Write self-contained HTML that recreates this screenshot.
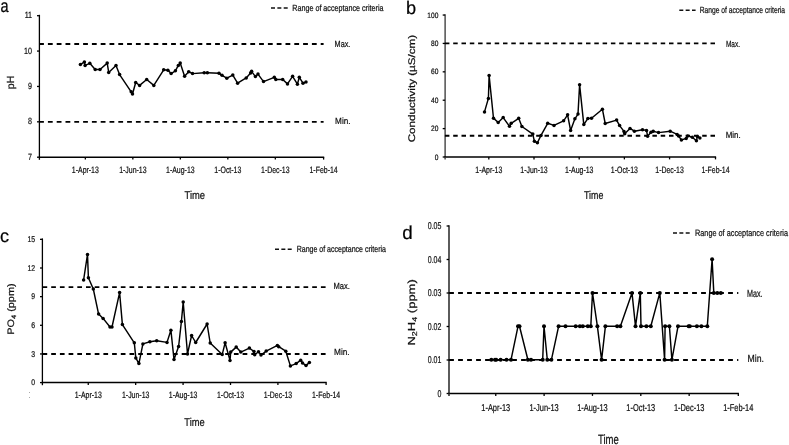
<!DOCTYPE html>
<html><head><meta charset="utf-8"><title>Water quality charts</title>
<style>
html,body{margin:0;padding:0;background:#fff;}
svg{display:block;will-change:transform;}
text{font-family:"Liberation Sans", sans-serif;text-rendering:geometricPrecision;stroke:#111;stroke-width:0.22px;}
</style></head>
<body>
<svg width="789" height="445" viewBox="0 0 789 445">
<rect width="789" height="445" fill="#fff"/>
<line x1="39.40" y1="14.80" x2="39.40" y2="157.20" stroke="#000" stroke-width="1.3" />
<line x1="38.80" y1="157.20" x2="324.20" y2="157.20" stroke="#000" stroke-width="1.5" />
<line x1="37.00" y1="15.70" x2="39.40" y2="15.70" stroke="#000" stroke-width="1.3" />
<text x="32.10" y="18.30" font-size="9.0" text-anchor="end" fill="#111" stroke="#111" stroke-width="0.22" textLength="7.47" lengthAdjust="spacingAndGlyphs" >11</text>
<line x1="37.00" y1="51.07" x2="39.40" y2="51.07" stroke="#000" stroke-width="1.3" />
<text x="32.10" y="53.67" font-size="9.0" text-anchor="end" fill="#111" stroke="#111" stroke-width="0.22" textLength="8.01" lengthAdjust="spacingAndGlyphs" >10</text>
<line x1="37.00" y1="86.45" x2="39.40" y2="86.45" stroke="#000" stroke-width="1.3" />
<text x="32.10" y="89.05" font-size="9.0" text-anchor="end" fill="#111" stroke="#111" stroke-width="0.22" textLength="4.00" lengthAdjust="spacingAndGlyphs" >9</text>
<line x1="37.00" y1="121.82" x2="39.40" y2="121.82" stroke="#000" stroke-width="1.3" />
<text x="32.10" y="124.42" font-size="9.0" text-anchor="end" fill="#111" stroke="#111" stroke-width="0.22" textLength="4.00" lengthAdjust="spacingAndGlyphs" >8</text>
<line x1="37.00" y1="157.20" x2="39.40" y2="157.20" stroke="#000" stroke-width="1.3" />
<text x="32.10" y="159.80" font-size="9.0" text-anchor="end" fill="#111" stroke="#111" stroke-width="0.22" textLength="4.00" lengthAdjust="spacingAndGlyphs" >7</text>
<line x1="39.40" y1="157.20" x2="39.40" y2="159.80" stroke="#000" stroke-width="1.3" />
<line x1="85.34" y1="157.20" x2="85.34" y2="159.60" stroke="#000" stroke-width="1.3" />
<text x="85.34" y="172.60" font-size="9.2" text-anchor="middle" fill="#111" stroke="#111" stroke-width="0.22" textLength="27.02" lengthAdjust="spacingAndGlyphs" >1-Apr-13</text>
<line x1="132.84" y1="157.20" x2="132.84" y2="159.60" stroke="#000" stroke-width="1.3" />
<text x="132.84" y="172.60" font-size="9.2" text-anchor="middle" fill="#111" stroke="#111" stroke-width="0.22" textLength="27.41" lengthAdjust="spacingAndGlyphs" >1-Jun-13</text>
<line x1="180.33" y1="157.20" x2="180.33" y2="159.60" stroke="#000" stroke-width="1.3" />
<text x="180.33" y="172.60" font-size="9.2" text-anchor="middle" fill="#111" stroke="#111" stroke-width="0.22" textLength="28.57" lengthAdjust="spacingAndGlyphs" >1-Aug-13</text>
<line x1="227.83" y1="157.20" x2="227.83" y2="159.60" stroke="#000" stroke-width="1.3" />
<text x="227.83" y="172.60" font-size="9.2" text-anchor="middle" fill="#111" stroke="#111" stroke-width="0.22" textLength="27.02" lengthAdjust="spacingAndGlyphs" >1-Oct-13</text>
<line x1="275.32" y1="157.20" x2="275.32" y2="159.60" stroke="#000" stroke-width="1.3" />
<text x="275.32" y="172.60" font-size="9.2" text-anchor="middle" fill="#111" stroke="#111" stroke-width="0.22" textLength="28.57" lengthAdjust="spacingAndGlyphs" >1-Dec-13</text>
<line x1="323.60" y1="157.20" x2="323.60" y2="159.60" stroke="#000" stroke-width="1.3" />
<text x="323.60" y="172.60" font-size="9.2" text-anchor="middle" fill="#111" stroke="#111" stroke-width="0.22" textLength="28.18" lengthAdjust="spacingAndGlyphs" >1-Feb-14</text>
<line x1="39.10" y1="44.00" x2="323.60" y2="44.00" stroke="#000" stroke-width="1.85" stroke-dasharray="4.80 4.00"/>
<line x1="39.10" y1="121.82" x2="323.60" y2="121.82" stroke="#000" stroke-width="1.85" stroke-dasharray="4.80 4.00"/>
<text x="334.60" y="47.30" font-size="9.1" text-anchor="start" fill="#111" stroke="#111" stroke-width="0.22" textLength="15.80" lengthAdjust="spacingAndGlyphs" >Max.</text>
<text x="335.10" y="124.00" font-size="9.1" text-anchor="start" fill="#111" stroke="#111" stroke-width="0.22" textLength="15.40" lengthAdjust="spacingAndGlyphs" >Min.</text>
<line x1="271.00" y1="8.00" x2="288.30" y2="8.00" stroke="#111" stroke-width="1.5" stroke-dasharray="4.0 2.35"/>
<text x="292.30" y="10.70" font-size="8.9" text-anchor="start" fill="#111" stroke="#111" stroke-width="0.22" textLength="91.20" lengthAdjust="spacingAndGlyphs" >Range of acceptance criteria</text>
<text x="0.60" y="12.10" font-size="18.2" text-anchor="start" fill="#000" stroke="#000" stroke-width="0.22" textLength="8.10" lengthAdjust="spacingAndGlyphs" >a</text>
<text x="184.50" y="199.00" font-size="11.3" text-anchor="start" fill="#111" stroke="#111" stroke-width="0.22" textLength="20.50" lengthAdjust="spacingAndGlyphs" >Time</text>
<text x="0" y="0" font-size="10.3" text-anchor="middle" fill="#111" stroke="#111" stroke-width="0.22" textLength="13.5" lengthAdjust="spacingAndGlyphs" transform="translate(13.9 82.4) rotate(-90)">pH</text>
<path d="M80.4 64.6 L84.4 61.9 L85.1 65.4 L89.8 63.3 L95.2 69.5 L100.0 69.5 L107.2 63.1 L108.7 72.4 L116.0 65.4 L119.6 74.6 L131.2 91.8 L132.5 94.0 L135.7 82.5 L139.6 85.4 L146.7 79.5 L153.8 85.4 L163.7 69.8 L167.9 70.3 L171.1 73.6 L175.4 70.8 L178.3 65.4 L180.2 63.1 L184.6 76.3 L188.7 71.7 L192.5 73.6 L204.2 72.8 L207.4 72.8 L219.0 73.3 L222.0 75.3 L226.8 78.2 L232.8 75.1 L237.6 83.2 L246.2 77.9 L250.6 73.0 L251.6 71.3 L255.4 76.6 L258.0 74.1 L263.5 81.6 L274.3 77.3 L275.8 79.5 L282.7 79.5 L287.5 83.9 L292.6 76.3 L297.4 84.2 L299.3 77.3 L303.0 83.2 L306.0 81.9" fill="none" stroke="#000" stroke-width="1.45" stroke-linejoin="round"/>
<circle cx="80.4" cy="64.6" r="1.75" fill="#000"/>
<circle cx="84.4" cy="61.9" r="1.75" fill="#000"/>
<circle cx="85.1" cy="65.4" r="1.75" fill="#000"/>
<circle cx="89.8" cy="63.3" r="1.75" fill="#000"/>
<circle cx="95.2" cy="69.5" r="1.75" fill="#000"/>
<circle cx="100.0" cy="69.5" r="1.75" fill="#000"/>
<circle cx="107.2" cy="63.1" r="1.75" fill="#000"/>
<circle cx="108.7" cy="72.4" r="1.75" fill="#000"/>
<circle cx="116.0" cy="65.4" r="1.75" fill="#000"/>
<circle cx="119.6" cy="74.6" r="1.75" fill="#000"/>
<circle cx="131.2" cy="91.8" r="1.75" fill="#000"/>
<circle cx="132.5" cy="94.0" r="1.75" fill="#000"/>
<circle cx="135.7" cy="82.5" r="1.75" fill="#000"/>
<circle cx="139.6" cy="85.4" r="1.75" fill="#000"/>
<circle cx="146.7" cy="79.5" r="1.75" fill="#000"/>
<circle cx="153.8" cy="85.4" r="1.75" fill="#000"/>
<circle cx="163.7" cy="69.8" r="1.75" fill="#000"/>
<circle cx="167.9" cy="70.3" r="1.75" fill="#000"/>
<circle cx="171.1" cy="73.6" r="1.75" fill="#000"/>
<circle cx="175.4" cy="70.8" r="1.75" fill="#000"/>
<circle cx="178.3" cy="65.4" r="1.75" fill="#000"/>
<circle cx="180.2" cy="63.1" r="1.75" fill="#000"/>
<circle cx="184.6" cy="76.3" r="1.75" fill="#000"/>
<circle cx="188.7" cy="71.7" r="1.75" fill="#000"/>
<circle cx="192.5" cy="73.6" r="1.75" fill="#000"/>
<circle cx="204.2" cy="72.8" r="1.75" fill="#000"/>
<circle cx="207.4" cy="72.8" r="1.75" fill="#000"/>
<circle cx="219.0" cy="73.3" r="1.75" fill="#000"/>
<circle cx="222.0" cy="75.3" r="1.75" fill="#000"/>
<circle cx="226.8" cy="78.2" r="1.75" fill="#000"/>
<circle cx="232.8" cy="75.1" r="1.75" fill="#000"/>
<circle cx="237.6" cy="83.2" r="1.75" fill="#000"/>
<circle cx="246.2" cy="77.9" r="1.75" fill="#000"/>
<circle cx="250.6" cy="73.0" r="1.75" fill="#000"/>
<circle cx="251.6" cy="71.3" r="1.75" fill="#000"/>
<circle cx="255.4" cy="76.6" r="1.75" fill="#000"/>
<circle cx="258.0" cy="74.1" r="1.75" fill="#000"/>
<circle cx="263.5" cy="81.6" r="1.75" fill="#000"/>
<circle cx="274.3" cy="77.3" r="1.75" fill="#000"/>
<circle cx="275.8" cy="79.5" r="1.75" fill="#000"/>
<circle cx="282.7" cy="79.5" r="1.75" fill="#000"/>
<circle cx="287.5" cy="83.9" r="1.75" fill="#000"/>
<circle cx="292.6" cy="76.3" r="1.75" fill="#000"/>
<circle cx="297.4" cy="84.2" r="1.75" fill="#000"/>
<circle cx="299.3" cy="77.3" r="1.75" fill="#000"/>
<circle cx="303.0" cy="83.2" r="1.75" fill="#000"/>
<circle cx="306.0" cy="81.9" r="1.75" fill="#000"/>
<line x1="445.10" y1="14.20" x2="445.10" y2="157.00" stroke="#333" stroke-width="1.3" />
<line x1="444.50" y1="157.00" x2="716.10" y2="157.00" stroke="#000" stroke-width="1.5" />
<line x1="442.70" y1="15.05" x2="445.10" y2="15.05" stroke="#000" stroke-width="1.3" />
<text x="438.40" y="17.65" font-size="7.8" text-anchor="end" fill="#111" stroke="#111" stroke-width="0.22" textLength="11.06" lengthAdjust="spacingAndGlyphs" >100</text>
<line x1="442.70" y1="43.44" x2="445.10" y2="43.44" stroke="#000" stroke-width="1.3" />
<text x="438.40" y="46.04" font-size="7.8" text-anchor="end" fill="#111" stroke="#111" stroke-width="0.22" textLength="7.37" lengthAdjust="spacingAndGlyphs" >80</text>
<line x1="442.70" y1="71.83" x2="445.10" y2="71.83" stroke="#000" stroke-width="1.3" />
<text x="438.40" y="74.43" font-size="7.8" text-anchor="end" fill="#111" stroke="#111" stroke-width="0.22" textLength="7.37" lengthAdjust="spacingAndGlyphs" >60</text>
<line x1="442.70" y1="100.22" x2="445.10" y2="100.22" stroke="#000" stroke-width="1.3" />
<text x="438.40" y="102.82" font-size="7.8" text-anchor="end" fill="#111" stroke="#111" stroke-width="0.22" textLength="7.37" lengthAdjust="spacingAndGlyphs" >40</text>
<line x1="442.70" y1="128.61" x2="445.10" y2="128.61" stroke="#000" stroke-width="1.3" />
<text x="438.40" y="131.21" font-size="7.8" text-anchor="end" fill="#111" stroke="#111" stroke-width="0.22" textLength="7.37" lengthAdjust="spacingAndGlyphs" >20</text>
<line x1="442.70" y1="157.00" x2="445.10" y2="157.00" stroke="#000" stroke-width="1.3" />
<text x="438.40" y="159.60" font-size="7.8" text-anchor="end" fill="#111" stroke="#111" stroke-width="0.22" textLength="3.69" lengthAdjust="spacingAndGlyphs" >0</text>
<line x1="445.10" y1="157.00" x2="445.10" y2="159.60" stroke="#333" stroke-width="1.3" />
<line x1="488.81" y1="157.00" x2="488.81" y2="159.40" stroke="#000" stroke-width="1.3" />
<text x="488.81" y="172.60" font-size="9.2" text-anchor="middle" fill="#111" stroke="#111" stroke-width="0.22" textLength="27.02" lengthAdjust="spacingAndGlyphs" >1-Apr-13</text>
<line x1="534.00" y1="157.00" x2="534.00" y2="159.40" stroke="#000" stroke-width="1.3" />
<text x="534.00" y="172.60" font-size="9.2" text-anchor="middle" fill="#111" stroke="#111" stroke-width="0.22" textLength="27.41" lengthAdjust="spacingAndGlyphs" >1-Jun-13</text>
<line x1="579.19" y1="157.00" x2="579.19" y2="159.40" stroke="#000" stroke-width="1.3" />
<text x="579.19" y="172.60" font-size="9.2" text-anchor="middle" fill="#111" stroke="#111" stroke-width="0.22" textLength="28.57" lengthAdjust="spacingAndGlyphs" >1-Aug-13</text>
<line x1="624.38" y1="157.00" x2="624.38" y2="159.40" stroke="#000" stroke-width="1.3" />
<text x="624.38" y="172.60" font-size="9.2" text-anchor="middle" fill="#111" stroke="#111" stroke-width="0.22" textLength="27.02" lengthAdjust="spacingAndGlyphs" >1-Oct-13</text>
<line x1="669.57" y1="157.00" x2="669.57" y2="159.40" stroke="#000" stroke-width="1.3" />
<text x="669.57" y="172.60" font-size="9.2" text-anchor="middle" fill="#111" stroke="#111" stroke-width="0.22" textLength="28.57" lengthAdjust="spacingAndGlyphs" >1-Dec-13</text>
<line x1="715.50" y1="157.00" x2="715.50" y2="159.40" stroke="#000" stroke-width="1.3" />
<text x="715.50" y="172.60" font-size="9.2" text-anchor="middle" fill="#111" stroke="#111" stroke-width="0.22" textLength="28.18" lengthAdjust="spacingAndGlyphs" >1-Feb-14</text>
<line x1="444.90" y1="43.44" x2="715.50" y2="43.44" stroke="#000" stroke-width="1.85" stroke-dasharray="4.50 3.80"/>
<line x1="444.90" y1="135.71" x2="715.50" y2="135.71" stroke="#000" stroke-width="1.85" stroke-dasharray="4.50 3.80"/>
<text x="725.90" y="47.00" font-size="9.1" text-anchor="start" fill="#111" stroke="#111" stroke-width="0.22" textLength="14.20" lengthAdjust="spacingAndGlyphs" >Max.</text>
<text x="725.70" y="137.70" font-size="9.1" text-anchor="start" fill="#111" stroke="#111" stroke-width="0.22" textLength="15.00" lengthAdjust="spacingAndGlyphs" >Min.</text>
<line x1="679.30" y1="10.30" x2="695.60" y2="10.30" stroke="#111" stroke-width="1.5" stroke-dasharray="4.0 2.35"/>
<text x="699.70" y="13.00" font-size="8.9" text-anchor="start" fill="#111" stroke="#111" stroke-width="0.22" textLength="85.40" lengthAdjust="spacingAndGlyphs" >Range of acceptance criteria</text>
<text x="406.00" y="14.00" font-size="18.2" text-anchor="start" fill="#000" stroke="#000" stroke-width="0.22" >b</text>
<text x="584.00" y="199.10" font-size="11.3" text-anchor="start" fill="#111" stroke="#111" stroke-width="0.22" textLength="19.30" lengthAdjust="spacingAndGlyphs" >Time</text>
<text x="0" y="0" font-size="9.6" text-anchor="middle" fill="#111" textLength="107.5" lengthAdjust="spacingAndGlyphs" transform="translate(415.4 88.6) rotate(-90)">Conductivity (µS/cm)</text>
<path d="M484.5 111.9 L488.4 98.4 L489.1 75.4 L493.5 118.2 L498.2 122.4 L503.2 117.6 L509.5 126.3 L511.2 123.3 L518.7 118.3 L521.9 126.5 L532.8 134.1 L534.4 141.3 L537.4 142.8 L541.0 135.4 L547.7 123.3 L554.0 125.4 L563.6 120.8 L567.6 114.8 L570.6 130.5 L574.9 118.8 L578.0 114.1 L579.6 84.7 L583.8 124.6 L587.9 118.4 L591.5 118.3 L602.4 109.2 L605.2 123.5 L616.6 120.1 L619.6 125.6 L624.0 131.4 L624.7 133.7 L630.0 128.4 L634.4 131.2 L642.5 129.8 L646.5 130.4 L647.6 136.2 L651.0 132.2 L653.2 131.3 L658.5 132.6 L670.2 131.2 L677.1 134.4 L678.6 135.9 L681.4 140.0 L686.2 138.4 L687.7 135.9 L692.3 137.2 L696.4 140.7 L697.4 136.4 L699.9 137.9" fill="none" stroke="#000" stroke-width="1.45" stroke-linejoin="round"/>
<circle cx="484.5" cy="111.9" r="1.75" fill="#000"/>
<circle cx="488.4" cy="98.4" r="1.75" fill="#000"/>
<circle cx="489.1" cy="75.4" r="1.75" fill="#000"/>
<circle cx="493.5" cy="118.2" r="1.75" fill="#000"/>
<circle cx="498.2" cy="122.4" r="1.75" fill="#000"/>
<circle cx="503.2" cy="117.6" r="1.75" fill="#000"/>
<circle cx="509.5" cy="126.3" r="1.75" fill="#000"/>
<circle cx="511.2" cy="123.3" r="1.75" fill="#000"/>
<circle cx="518.7" cy="118.3" r="1.75" fill="#000"/>
<circle cx="521.9" cy="126.5" r="1.75" fill="#000"/>
<circle cx="532.8" cy="134.1" r="1.75" fill="#000"/>
<circle cx="534.4" cy="141.3" r="1.75" fill="#000"/>
<circle cx="537.4" cy="142.8" r="1.75" fill="#000"/>
<circle cx="541.0" cy="135.4" r="1.75" fill="#000"/>
<circle cx="547.7" cy="123.3" r="1.75" fill="#000"/>
<circle cx="554.0" cy="125.4" r="1.75" fill="#000"/>
<circle cx="563.6" cy="120.8" r="1.75" fill="#000"/>
<circle cx="567.6" cy="114.8" r="1.75" fill="#000"/>
<circle cx="570.6" cy="130.5" r="1.75" fill="#000"/>
<circle cx="574.9" cy="118.8" r="1.75" fill="#000"/>
<circle cx="578.0" cy="114.1" r="1.75" fill="#000"/>
<circle cx="579.6" cy="84.7" r="1.75" fill="#000"/>
<circle cx="583.8" cy="124.6" r="1.75" fill="#000"/>
<circle cx="587.9" cy="118.4" r="1.75" fill="#000"/>
<circle cx="591.5" cy="118.3" r="1.75" fill="#000"/>
<circle cx="602.4" cy="109.2" r="1.75" fill="#000"/>
<circle cx="605.2" cy="123.5" r="1.75" fill="#000"/>
<circle cx="616.6" cy="120.1" r="1.75" fill="#000"/>
<circle cx="619.6" cy="125.6" r="1.75" fill="#000"/>
<circle cx="624.0" cy="131.4" r="1.75" fill="#000"/>
<circle cx="624.7" cy="133.7" r="1.75" fill="#000"/>
<circle cx="630.0" cy="128.4" r="1.75" fill="#000"/>
<circle cx="634.4" cy="131.2" r="1.75" fill="#000"/>
<circle cx="642.5" cy="129.8" r="1.75" fill="#000"/>
<circle cx="646.5" cy="130.4" r="1.75" fill="#000"/>
<circle cx="647.6" cy="136.2" r="1.75" fill="#000"/>
<circle cx="651.0" cy="132.2" r="1.75" fill="#000"/>
<circle cx="653.2" cy="131.3" r="1.75" fill="#000"/>
<circle cx="658.5" cy="132.6" r="1.75" fill="#000"/>
<circle cx="670.2" cy="131.2" r="1.75" fill="#000"/>
<circle cx="677.1" cy="134.4" r="1.75" fill="#000"/>
<circle cx="678.6" cy="135.9" r="1.75" fill="#000"/>
<circle cx="681.4" cy="140.0" r="1.75" fill="#000"/>
<circle cx="686.2" cy="138.4" r="1.75" fill="#000"/>
<circle cx="687.7" cy="135.9" r="1.75" fill="#000"/>
<circle cx="692.3" cy="137.2" r="1.75" fill="#000"/>
<circle cx="696.4" cy="140.7" r="1.75" fill="#000"/>
<circle cx="697.4" cy="136.4" r="1.75" fill="#000"/>
<circle cx="699.9" cy="137.9" r="1.75" fill="#000"/>
<line x1="42.40" y1="238.40" x2="42.40" y2="382.60" stroke="#000" stroke-width="1.3" />
<line x1="41.80" y1="382.60" x2="326.70" y2="382.60" stroke="#000" stroke-width="1.5" />
<line x1="40.00" y1="239.35" x2="42.40" y2="239.35" stroke="#000" stroke-width="1.3" />
<text x="35.20" y="242.05" font-size="8.3" text-anchor="end" fill="#111" stroke="#111" stroke-width="0.22" textLength="7.66" lengthAdjust="spacingAndGlyphs" >15</text>
<line x1="40.00" y1="268.00" x2="42.40" y2="268.00" stroke="#000" stroke-width="1.3" />
<text x="35.20" y="270.70" font-size="8.3" text-anchor="end" fill="#111" stroke="#111" stroke-width="0.22" textLength="7.66" lengthAdjust="spacingAndGlyphs" >12</text>
<line x1="40.00" y1="296.65" x2="42.40" y2="296.65" stroke="#000" stroke-width="1.3" />
<text x="35.20" y="299.35" font-size="8.3" text-anchor="end" fill="#111" stroke="#111" stroke-width="0.22" textLength="3.83" lengthAdjust="spacingAndGlyphs" >9</text>
<line x1="40.00" y1="325.30" x2="42.40" y2="325.30" stroke="#000" stroke-width="1.3" />
<text x="35.20" y="328.00" font-size="8.3" text-anchor="end" fill="#111" stroke="#111" stroke-width="0.22" textLength="3.83" lengthAdjust="spacingAndGlyphs" >6</text>
<line x1="40.00" y1="353.95" x2="42.40" y2="353.95" stroke="#000" stroke-width="1.3" />
<text x="35.20" y="356.65" font-size="8.3" text-anchor="end" fill="#111" stroke="#111" stroke-width="0.22" textLength="3.83" lengthAdjust="spacingAndGlyphs" >3</text>
<line x1="40.00" y1="382.60" x2="42.40" y2="382.60" stroke="#000" stroke-width="1.3" />
<text x="35.20" y="385.30" font-size="8.3" text-anchor="end" fill="#111" stroke="#111" stroke-width="0.22" textLength="3.83" lengthAdjust="spacingAndGlyphs" >0</text>
<line x1="42.40" y1="382.60" x2="42.40" y2="385.20" stroke="#000" stroke-width="1.3" />
<line x1="88.26" y1="382.60" x2="88.26" y2="385.00" stroke="#000" stroke-width="1.3" />
<text x="88.26" y="398.00" font-size="9.2" text-anchor="middle" fill="#111" stroke="#111" stroke-width="0.22" textLength="27.02" lengthAdjust="spacingAndGlyphs" >1-Apr-13</text>
<line x1="135.67" y1="382.60" x2="135.67" y2="385.00" stroke="#000" stroke-width="1.3" />
<text x="135.67" y="398.00" font-size="9.2" text-anchor="middle" fill="#111" stroke="#111" stroke-width="0.22" textLength="27.41" lengthAdjust="spacingAndGlyphs" >1-Jun-13</text>
<line x1="183.08" y1="382.60" x2="183.08" y2="385.00" stroke="#000" stroke-width="1.3" />
<text x="183.08" y="398.00" font-size="9.2" text-anchor="middle" fill="#111" stroke="#111" stroke-width="0.22" textLength="28.57" lengthAdjust="spacingAndGlyphs" >1-Aug-13</text>
<line x1="230.50" y1="382.60" x2="230.50" y2="385.00" stroke="#000" stroke-width="1.3" />
<text x="230.50" y="398.00" font-size="9.2" text-anchor="middle" fill="#111" stroke="#111" stroke-width="0.22" textLength="27.02" lengthAdjust="spacingAndGlyphs" >1-Oct-13</text>
<line x1="277.91" y1="382.60" x2="277.91" y2="385.00" stroke="#000" stroke-width="1.3" />
<text x="277.91" y="398.00" font-size="9.2" text-anchor="middle" fill="#111" stroke="#111" stroke-width="0.22" textLength="28.57" lengthAdjust="spacingAndGlyphs" >1-Dec-13</text>
<line x1="326.10" y1="382.60" x2="326.10" y2="385.00" stroke="#000" stroke-width="1.3" />
<text x="326.10" y="398.00" font-size="9.2" text-anchor="middle" fill="#111" stroke="#111" stroke-width="0.22" textLength="28.18" lengthAdjust="spacingAndGlyphs" >1-Feb-14</text>
<line x1="42.50" y1="287.10" x2="326.10" y2="287.10" stroke="#000" stroke-width="1.85" stroke-dasharray="4.70 4.00"/>
<line x1="42.50" y1="353.95" x2="326.10" y2="353.95" stroke="#000" stroke-width="1.85" stroke-dasharray="4.70 4.00"/>
<text x="333.40" y="288.60" font-size="9.1" text-anchor="start" fill="#111" stroke="#111" stroke-width="0.22" textLength="16.40" lengthAdjust="spacingAndGlyphs" >Max.</text>
<text x="334.00" y="355.10" font-size="9.1" text-anchor="start" fill="#111" stroke="#111" stroke-width="0.22" textLength="15.60" lengthAdjust="spacingAndGlyphs" >Min.</text>
<line x1="275.00" y1="249.30" x2="292.00" y2="249.30" stroke="#111" stroke-width="1.5" stroke-dasharray="4.0 2.35"/>
<text x="296.70" y="252.20" font-size="8.9" text-anchor="start" fill="#111" stroke="#111" stroke-width="0.22" textLength="89.30" lengthAdjust="spacingAndGlyphs" >Range of acceptance criteria</text>
<text x="0.10" y="241.60" font-size="18.2" text-anchor="start" fill="#000" stroke="#000" stroke-width="0.22" >c</text>
<text x="184.30" y="426.00" font-size="11.3" text-anchor="start" fill="#111" stroke="#111" stroke-width="0.22" textLength="20.30" lengthAdjust="spacingAndGlyphs" >Time</text>
<text x="0" y="0" font-size="9.4" text-anchor="middle" fill="#111" textLength="51.5" lengthAdjust="spacingAndGlyphs" transform="translate(13.6 309.1) rotate(-90)">PO<tspan font-size="6.5" dy="2">4</tspan><tspan dy="-2"> (ppm)</tspan></text>
<path d="M83.6 280.0 L87.5 254.4 L88.4 277.8 L93.3 289.0 L98.6 314.1 L103.1 318.4 L110.0 327.0 L112.0 327.0 L119.6 292.6 L122.4 324.6 L134.3 342.8 L135.8 357.9 L138.9 363.6 L142.9 343.9 L149.9 341.7 L156.7 340.7 L167.0 342.4 L170.9 330.2 L174.0 359.5 L178.6 346.5 L181.4 321.5 L183.2 302.1 L187.5 354.0 L191.6 335.5 L195.7 342.5 L207.1 324.0 L210.2 343.0 L222.2 354.6 L225.1 342.8 L230.0 360.4 L230.7 352.1 L236.2 347.1 L240.8 352.1 L249.4 348.1 L254.0 351.5 L254.7 354.8 L258.5 351.8 L261.0 355.1 L266.2 351.1 L277.4 345.4 L278.7 346.7 L285.8 351.2 L290.4 365.9 L296.2 363.6 L300.7 360.2 L302.5 362.9 L306.0 365.6 L309.4 362.4" fill="none" stroke="#000" stroke-width="1.45" stroke-linejoin="round"/>
<circle cx="83.6" cy="280.0" r="1.75" fill="#000"/>
<circle cx="87.5" cy="254.4" r="1.75" fill="#000"/>
<circle cx="88.4" cy="277.8" r="1.75" fill="#000"/>
<circle cx="93.3" cy="289.0" r="1.75" fill="#000"/>
<circle cx="98.6" cy="314.1" r="1.75" fill="#000"/>
<circle cx="103.1" cy="318.4" r="1.75" fill="#000"/>
<circle cx="110.0" cy="327.0" r="1.75" fill="#000"/>
<circle cx="112.0" cy="327.0" r="1.75" fill="#000"/>
<circle cx="119.6" cy="292.6" r="1.75" fill="#000"/>
<circle cx="122.4" cy="324.6" r="1.75" fill="#000"/>
<circle cx="134.3" cy="342.8" r="1.75" fill="#000"/>
<circle cx="135.8" cy="357.9" r="1.75" fill="#000"/>
<circle cx="138.9" cy="363.6" r="1.75" fill="#000"/>
<circle cx="142.9" cy="343.9" r="1.75" fill="#000"/>
<circle cx="149.9" cy="341.7" r="1.75" fill="#000"/>
<circle cx="156.7" cy="340.7" r="1.75" fill="#000"/>
<circle cx="167.0" cy="342.4" r="1.75" fill="#000"/>
<circle cx="170.9" cy="330.2" r="1.75" fill="#000"/>
<circle cx="174.0" cy="359.5" r="1.75" fill="#000"/>
<circle cx="178.6" cy="346.5" r="1.75" fill="#000"/>
<circle cx="181.4" cy="321.5" r="1.75" fill="#000"/>
<circle cx="183.2" cy="302.1" r="1.75" fill="#000"/>
<circle cx="187.5" cy="354.0" r="1.75" fill="#000"/>
<circle cx="191.6" cy="335.5" r="1.75" fill="#000"/>
<circle cx="195.7" cy="342.5" r="1.75" fill="#000"/>
<circle cx="207.1" cy="324.0" r="1.75" fill="#000"/>
<circle cx="210.2" cy="343.0" r="1.75" fill="#000"/>
<circle cx="222.2" cy="354.6" r="1.75" fill="#000"/>
<circle cx="225.1" cy="342.8" r="1.75" fill="#000"/>
<circle cx="230.0" cy="360.4" r="1.75" fill="#000"/>
<circle cx="230.7" cy="352.1" r="1.75" fill="#000"/>
<circle cx="236.2" cy="347.1" r="1.75" fill="#000"/>
<circle cx="240.8" cy="352.1" r="1.75" fill="#000"/>
<circle cx="249.4" cy="348.1" r="1.75" fill="#000"/>
<circle cx="254.0" cy="351.5" r="1.75" fill="#000"/>
<circle cx="254.7" cy="354.8" r="1.75" fill="#000"/>
<circle cx="258.5" cy="351.8" r="1.75" fill="#000"/>
<circle cx="261.0" cy="355.1" r="1.75" fill="#000"/>
<circle cx="266.2" cy="351.1" r="1.75" fill="#000"/>
<circle cx="277.4" cy="345.4" r="1.75" fill="#000"/>
<circle cx="278.7" cy="346.7" r="1.75" fill="#000"/>
<circle cx="285.8" cy="351.2" r="1.75" fill="#000"/>
<circle cx="290.4" cy="365.9" r="1.75" fill="#000"/>
<circle cx="296.2" cy="363.6" r="1.75" fill="#000"/>
<circle cx="300.7" cy="360.2" r="1.75" fill="#000"/>
<circle cx="302.5" cy="362.9" r="1.75" fill="#000"/>
<circle cx="306.0" cy="365.6" r="1.75" fill="#000"/>
<circle cx="309.4" cy="362.4" r="1.75" fill="#000"/>
<line x1="449.00" y1="225.20" x2="449.00" y2="393.50" stroke="#333" stroke-width="1.6" />
<line x1="448.40" y1="393.50" x2="738.90" y2="393.50" stroke="#000" stroke-width="1.5" />
<line x1="446.60" y1="226.00" x2="449.00" y2="226.00" stroke="#000" stroke-width="1.3" />
<text x="441.40" y="229.40" font-size="9.9" text-anchor="end" fill="#111" stroke="#111" stroke-width="0.22" textLength="13.68" lengthAdjust="spacingAndGlyphs" >0.05</text>
<line x1="446.60" y1="259.50" x2="449.00" y2="259.50" stroke="#000" stroke-width="1.3" />
<text x="441.40" y="262.90" font-size="9.9" text-anchor="end" fill="#111" stroke="#111" stroke-width="0.22" textLength="13.68" lengthAdjust="spacingAndGlyphs" >0.04</text>
<line x1="446.60" y1="293.00" x2="449.00" y2="293.00" stroke="#000" stroke-width="1.3" />
<text x="441.40" y="296.40" font-size="9.9" text-anchor="end" fill="#111" stroke="#111" stroke-width="0.22" textLength="13.68" lengthAdjust="spacingAndGlyphs" >0.03</text>
<line x1="446.60" y1="326.50" x2="449.00" y2="326.50" stroke="#000" stroke-width="1.3" />
<text x="441.40" y="329.90" font-size="9.9" text-anchor="end" fill="#111" stroke="#111" stroke-width="0.22" textLength="13.68" lengthAdjust="spacingAndGlyphs" >0.02</text>
<line x1="446.60" y1="360.00" x2="449.00" y2="360.00" stroke="#000" stroke-width="1.3" />
<text x="441.40" y="363.40" font-size="9.9" text-anchor="end" fill="#111" stroke="#111" stroke-width="0.22" textLength="13.68" lengthAdjust="spacingAndGlyphs" >0.01</text>
<line x1="446.60" y1="393.50" x2="449.00" y2="393.50" stroke="#000" stroke-width="1.3" />
<text x="441.40" y="396.90" font-size="9.9" text-anchor="end" fill="#111" stroke="#111" stroke-width="0.22" textLength="3.91" lengthAdjust="spacingAndGlyphs" >0</text>
<line x1="449.00" y1="393.50" x2="449.00" y2="396.10" stroke="#333" stroke-width="1.6" />
<line x1="495.76" y1="393.50" x2="495.76" y2="395.90" stroke="#000" stroke-width="1.3" />
<text x="495.76" y="410.90" font-size="9.9" text-anchor="middle" fill="#111" stroke="#111" stroke-width="0.22" textLength="28.89" lengthAdjust="spacingAndGlyphs" >1-Apr-13</text>
<line x1="544.11" y1="393.50" x2="544.11" y2="395.90" stroke="#000" stroke-width="1.3" />
<text x="544.11" y="410.90" font-size="9.9" text-anchor="middle" fill="#111" stroke="#111" stroke-width="0.22" textLength="29.30" lengthAdjust="spacingAndGlyphs" >1-Jun-13</text>
<line x1="592.46" y1="393.50" x2="592.46" y2="395.90" stroke="#000" stroke-width="1.3" />
<text x="592.46" y="410.90" font-size="9.9" text-anchor="middle" fill="#111" stroke="#111" stroke-width="0.22" textLength="30.54" lengthAdjust="spacingAndGlyphs" >1-Aug-13</text>
<line x1="640.81" y1="393.50" x2="640.81" y2="395.90" stroke="#000" stroke-width="1.3" />
<text x="640.81" y="410.90" font-size="9.9" text-anchor="middle" fill="#111" stroke="#111" stroke-width="0.22" textLength="28.88" lengthAdjust="spacingAndGlyphs" >1-Oct-13</text>
<line x1="689.16" y1="393.50" x2="689.16" y2="395.90" stroke="#000" stroke-width="1.3" />
<text x="689.16" y="410.90" font-size="9.9" text-anchor="middle" fill="#111" stroke="#111" stroke-width="0.22" textLength="30.54" lengthAdjust="spacingAndGlyphs" >1-Dec-13</text>
<line x1="738.30" y1="393.50" x2="738.30" y2="395.90" stroke="#000" stroke-width="1.3" />
<text x="738.30" y="410.90" font-size="9.9" text-anchor="middle" fill="#111" stroke="#111" stroke-width="0.22" textLength="30.12" lengthAdjust="spacingAndGlyphs" >1-Feb-14</text>
<line x1="449.10" y1="293.00" x2="738.30" y2="293.00" stroke="#000" stroke-width="1.85" stroke-dasharray="4.80 4.20"/>
<line x1="449.10" y1="360.00" x2="738.30" y2="360.00" stroke="#000" stroke-width="1.85" stroke-dasharray="4.80 4.20"/>
<text x="747.00" y="296.50" font-size="10.3" text-anchor="start" fill="#111" stroke="#111" stroke-width="0.22" textLength="15.60" lengthAdjust="spacingAndGlyphs" >Max.</text>
<text x="747.60" y="361.60" font-size="10.3" text-anchor="start" fill="#111" stroke="#111" stroke-width="0.22" textLength="16.40" lengthAdjust="spacingAndGlyphs" >Min.</text>
<line x1="673.00" y1="233.00" x2="690.50" y2="233.00" stroke="#111" stroke-width="1.5" stroke-dasharray="4.0 2.35"/>
<text x="695.00" y="236.00" font-size="9.2" text-anchor="start" fill="#111" stroke="#111" stroke-width="0.22" textLength="93.00" lengthAdjust="spacingAndGlyphs" >Range of acceptance criteria</text>
<text x="402.20" y="238.90" font-size="18.8" text-anchor="start" fill="#000" stroke="#000" stroke-width="0.22" >d</text>
<text x="598.00" y="443.80" font-size="13.4" text-anchor="start" fill="#111" stroke="#111" stroke-width="0.22" textLength="20.80" lengthAdjust="spacingAndGlyphs" >Time</text>
<text x="0" y="0" font-size="10.2" text-anchor="middle" fill="#111" textLength="66.3" lengthAdjust="spacingAndGlyphs" transform="translate(415.3 312.4) rotate(-90)">N<tspan font-size="7" dy="2">2</tspan><tspan dy="-2">H</tspan><tspan font-size="7" dy="2">4</tspan><tspan dy="-2"> (ppm)</tspan></text>
<path d="M491.3 359.8 L495.0 359.8 L496.2 359.8 L500.6 359.8 L506.5 359.8 L511.0 359.8 L518.0 326.3 L519.5 326.3 L527.9 359.8 L531.0 359.8 L542.7 359.8 L544.0 326.3 L547.3 359.8 L551.4 359.8 L558.6 326.3 L565.5 326.3 L575.7 326.3 L579.9 326.3 L582.8 326.3 L587.8 326.3 L590.8 326.3 L592.5 292.9 L597.4 326.3 L601.6 359.8 L605.4 326.3 L617.1 326.3 L620.4 326.3 L632.0 292.9 L635.5 326.3 L640.3 292.9 L641.0 326.3 L646.4 326.3 L650.8 326.3 L659.8 292.9 L664.6 359.8 L665.1 326.3 L669.4 326.3 L671.9 359.8 L678.0 326.3 L688.6 326.3 L689.8 326.3 L696.9 326.3 L701.4 326.3 L707.3 326.3 L712.1 259.3 L713.8 292.9 L717.3 292.9 L720.8 292.9" fill="none" stroke="#000" stroke-width="1.45" stroke-linejoin="round"/>
<circle cx="491.3" cy="359.8" r="2.0" fill="#000"/>
<circle cx="495.0" cy="359.8" r="2.0" fill="#000"/>
<circle cx="496.2" cy="359.8" r="2.0" fill="#000"/>
<circle cx="500.6" cy="359.8" r="2.0" fill="#000"/>
<circle cx="506.5" cy="359.8" r="2.0" fill="#000"/>
<circle cx="511.0" cy="359.8" r="2.0" fill="#000"/>
<circle cx="518.0" cy="326.3" r="2.0" fill="#000"/>
<circle cx="519.5" cy="326.3" r="2.0" fill="#000"/>
<circle cx="527.9" cy="359.8" r="2.0" fill="#000"/>
<circle cx="531.0" cy="359.8" r="2.0" fill="#000"/>
<circle cx="542.7" cy="359.8" r="2.0" fill="#000"/>
<circle cx="544.0" cy="326.3" r="2.0" fill="#000"/>
<circle cx="547.3" cy="359.8" r="2.0" fill="#000"/>
<circle cx="551.4" cy="359.8" r="2.0" fill="#000"/>
<circle cx="558.6" cy="326.3" r="2.0" fill="#000"/>
<circle cx="565.5" cy="326.3" r="2.0" fill="#000"/>
<circle cx="575.7" cy="326.3" r="2.0" fill="#000"/>
<circle cx="579.9" cy="326.3" r="2.0" fill="#000"/>
<circle cx="582.8" cy="326.3" r="2.0" fill="#000"/>
<circle cx="587.8" cy="326.3" r="2.0" fill="#000"/>
<circle cx="590.8" cy="326.3" r="2.0" fill="#000"/>
<circle cx="592.5" cy="292.9" r="2.0" fill="#000"/>
<circle cx="597.4" cy="326.3" r="2.0" fill="#000"/>
<circle cx="601.6" cy="359.8" r="2.0" fill="#000"/>
<circle cx="605.4" cy="326.3" r="2.0" fill="#000"/>
<circle cx="617.1" cy="326.3" r="2.0" fill="#000"/>
<circle cx="620.4" cy="326.3" r="2.0" fill="#000"/>
<circle cx="632.0" cy="292.9" r="2.0" fill="#000"/>
<circle cx="635.5" cy="326.3" r="2.0" fill="#000"/>
<circle cx="640.3" cy="292.9" r="2.0" fill="#000"/>
<circle cx="641.0" cy="326.3" r="2.0" fill="#000"/>
<circle cx="646.4" cy="326.3" r="2.0" fill="#000"/>
<circle cx="650.8" cy="326.3" r="2.0" fill="#000"/>
<circle cx="659.8" cy="292.9" r="2.0" fill="#000"/>
<circle cx="664.6" cy="359.8" r="2.0" fill="#000"/>
<circle cx="665.1" cy="326.3" r="2.0" fill="#000"/>
<circle cx="669.4" cy="326.3" r="2.0" fill="#000"/>
<circle cx="671.9" cy="359.8" r="2.0" fill="#000"/>
<circle cx="678.0" cy="326.3" r="2.0" fill="#000"/>
<circle cx="688.6" cy="326.3" r="2.0" fill="#000"/>
<circle cx="689.8" cy="326.3" r="2.0" fill="#000"/>
<circle cx="696.9" cy="326.3" r="2.0" fill="#000"/>
<circle cx="701.4" cy="326.3" r="2.0" fill="#000"/>
<circle cx="707.3" cy="326.3" r="2.0" fill="#000"/>
<circle cx="712.1" cy="259.3" r="2.0" fill="#000"/>
<circle cx="713.8" cy="292.9" r="2.0" fill="#000"/>
<circle cx="717.3" cy="292.9" r="2.0" fill="#000"/>
<circle cx="720.8" cy="292.9" r="2.0" fill="#000"/>
<rect x="29" y="392" width="1" height="1" fill="#aaa"/><rect x="29" y="397" width="1" height="1" fill="#aaa"/>
<line x1="664.60" y1="359.80" x2="671.90" y2="359.80" stroke="#000" stroke-width="1.25" />
</svg>
</body></html>
